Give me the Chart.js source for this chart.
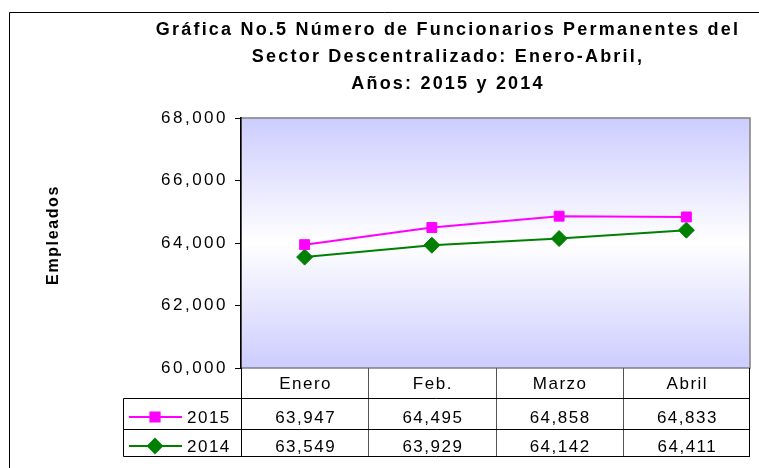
<!DOCTYPE html>
<html><head><meta charset="utf-8">
<script src="https://cdn.jsdelivr.net/npm/chart.js@4.4.0/dist/chart.umd.min.js"></script>
<style>html,body{margin:0;padding:0;background:#fff}#wrap{width:759px;height:468px;position:relative}</style>
</head><body><div id="wrap"><canvas id="c" width="759" height="468"></canvas></div>
<script>
const titleLines = ['Gráfica No.5 Número de Funcionarios Permanentes del', 'Sector Descentralizado: Enero-Abril,', 'Años: 2015 y 2014'];
const yAxisTitle = 'Empleados';
const categories = ['Enero', 'Feb.', 'Marzo', 'Abril'];
const seriesNames = ['2015', '2014'];
const values2015 = [63947, 64495, 64858, 64833];
const values2014 = [63549, 63929, 64142, 64411];
const yMin = 60000, yMax = 68000, yStep = 2000;

const fmt = v => Number(v).toLocaleString('en-US');
const FONT = '"Liberation Sans", Arial, sans-serif';

const decor = {
  id: 'decor',
  beforeDraw(chart) {
    const ctx = chart.ctx, a = chart.chartArea;
    ctx.save();
    ctx.fillStyle = '#fff';
    ctx.fillRect(0, 0, chart.width, chart.height);
    // chart frame
    ctx.strokeStyle = '#000'; ctx.lineWidth = 1;
    ctx.beginPath(); ctx.moveTo(9.5, 468); ctx.lineTo(9.5, 12.5); ctx.lineTo(759, 12.5); ctx.stroke();
    // plot gradient
    const g = ctx.createLinearGradient(0, a.top, 0, a.bottom);
    g.addColorStop(0, '#ccccff'); g.addColorStop(0.5, '#ffffff'); g.addColorStop(1, '#ccccff');
    ctx.fillStyle = g;
    ctx.fillRect(a.left, a.top, a.right - a.left, a.bottom - a.top);
    ctx.strokeStyle = '#808080'; ctx.lineWidth = 1.5;
    ctx.strokeRect(a.left, a.top, a.right - a.left, a.bottom - a.top);
    // title
    ctx.fillStyle = '#000';
    ctx.font = 'bold 18px ' + FONT;
    ctx.textAlign = 'center'; ctx.textBaseline = 'middle';
    ctx.letterSpacing = '2.2px';
    const ys = [30, 57, 84];
    titleLines.forEach((t, i) => ctx.fillText(t, 448, ys[i]));
    // y title
    ctx.translate(54, 235); ctx.rotate(-Math.PI / 2);
    ctx.font = 'bold 16px ' + FONT;
    ctx.letterSpacing = '1.6px';
    ctx.fillText(yAxisTitle, 0, 0);
    ctx.restore();
    ctx.letterSpacing = '2.5px';
  },
  afterDraw(chart) {
    const ctx = chart.ctx, a = chart.chartArea, xs = chart.scales.x;
    ctx.save();
    ctx.letterSpacing = '1.5px';
    const half = (xs.getPixelForValue(1) - xs.getPixelForValue(0)) / 2;
    const top = a.bottom, r1 = 398.5, r2 = 429.5, bot = 456.5, legL = 123.5;
    // lines
    ctx.lineWidth = 1;
    ctx.strokeStyle = '#555';
    categories.forEach((c, i) => {
      if (i === 0) return;
      const x = Math.round(xs.getPixelForValue(i) - half) + 0.5;
      ctx.beginPath(); ctx.moveTo(x, top); ctx.lineTo(x, bot); ctx.stroke();
    });
    ctx.strokeStyle = '#000';
    ctx.beginPath();
    ctx.moveTo(a.left + 0.5, top); ctx.lineTo(a.left + 0.5, bot);
    ctx.moveTo(a.right - 0.5, top); ctx.lineTo(a.right - 0.5, bot);
    ctx.moveTo(legL, r1); ctx.lineTo(a.right, r1);
    ctx.moveTo(legL, r2); ctx.lineTo(a.right, r2);
    ctx.moveTo(legL, bot); ctx.lineTo(a.right, bot);
    ctx.moveTo(legL, r1); ctx.lineTo(legL, bot);
    ctx.stroke();
    // text
    ctx.fillStyle = '#000';
    ctx.font = '17px ' + FONT;
    ctx.textAlign = 'center'; ctx.textBaseline = 'alphabetic';
    categories.forEach((c, i) => ctx.fillText(c, xs.getPixelForValue(i) + 1, 389));
    const rowsBase = [423, 452];
    const rowsMid = [417, 446];
    chart.data.datasets.forEach((ds, k) => {
      ds.data.forEach((v, i) => ctx.fillText(fmt(v), xs.getPixelForValue(i) + 1, rowsBase[k]));
      // legend key
      ctx.strokeStyle = ds.borderColor; ctx.lineWidth = 2;
      ctx.beginPath(); ctx.moveTo(129, rowsMid[k]); ctx.lineTo(182, rowsMid[k]); ctx.stroke();
      ctx.fillStyle = ds.pointBackgroundColor;
      Chart.helpers.drawPoint(ctx, {pointStyle: ds.pointStyle, radius: ds.pointStyle === 'rect' ? 6.5 : 7, rotation: 0, borderWidth: 1}, 155, rowsMid[k]);
      ctx.fill();
      ctx.fillStyle = '#000';
      ctx.textAlign = 'left';
      ctx.fillText(ds.label, 187, rowsBase[k]);
      ctx.textAlign = 'center';
    });
    ctx.restore();
    ctx.letterSpacing = '0px';
  }
};

new Chart(document.getElementById('c'), {
  type: 'line',
  data: {
    labels: categories,
    datasets: [
      { label: seriesNames[0], data: values2015, borderColor: '#ff00ff', backgroundColor: '#ff00ff',
        pointBackgroundColor: '#ff00ff', pointBorderColor: '#ff00ff', pointStyle: 'rect', pointRadius: 7,
        pointBorderWidth: 1, borderWidth: 2, tension: 0 },
      { label: seriesNames[1], data: values2014, borderColor: '#008000', backgroundColor: '#008000',
        pointBackgroundColor: '#008000', pointBorderColor: '#008000', pointStyle: 'rectRot', pointRadius: 8,
        pointBorderWidth: 1, borderWidth: 2, tension: 0 }
    ]
  },
  options: {
    responsive: false, animation: false, devicePixelRatio: 1,
    layout: { padding: { left: 0, top: 118, right: 2, bottom: 100 } },
    plugins: { legend: { display: false }, title: { display: false }, tooltip: { enabled: false } },
    scales: {
      x: { type: 'category', offset: true, display: false },
      y: {
        min: yMin, max: yMax,
        afterFit(s) { s.width = 241; },
        ticks: { stepSize: yStep, color: '#000', font: { family: FONT, size: 17 }, padding: 7,
                 callback: v => fmt(v) },
        grid: { drawOnChartArea: false, drawTicks: true, tickLength: 6, color: '#000' },
        border: { display: true, color: '#000', width: 1.5 }
      }
    }
  },
  plugins: [decor]
});
</script>
</body></html>
